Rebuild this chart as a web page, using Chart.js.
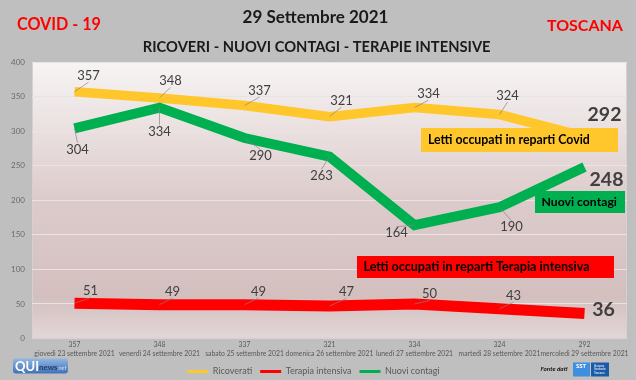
<!DOCTYPE html>
<html><head><meta charset="utf-8">
<script src="https://cdn.jsdelivr.net/npm/chart.js@4/dist/chart.umd.min.js"></script>
<style>html,body{margin:0;padding:0;background:#bfbfbf;}#wrap{width:636px;height:380px;}</style>
</head><body><div id="wrap"><canvas id="c" width="636" height="380"></canvas></div>
<script>
// ---- data ----
const categories = ['giovedì 23 settembre 2021','venerdì 24 settembre 2021','sabato 25 settembre 2021','domenica 26 settembre 2021','lunedì 27 settembre 2021','martedì 28 settembre 2021','mercoledì 29 settembre 2021'];
const ricoverati = [357, 348, 337, 321, 334, 324, 292];
const terapiaIntensiva = [51, 49, 49, 47, 50, 43, 36];
const nuoviContagi = [304, 334, 290, 263, 164, 190, 248];
const seriesNames = ['Ricoverati', 'Terapia intensiva', 'Nuovi contagi'];
const yTickValues = [0, 50, 100, 150, 200, 250, 300, 350, 400];
const titleText = '29 Settembre 2021';
const subtitleText = 'RICOVERI - NUOVI CONTAGI - TERAPIE INTENSIVE';
const leftTag = 'COVID - 19';
const rightTag = 'TOSCANA';
const boxTexts = ['Letti occupati in reparti Covid', 'Nuovi contagi', 'Letti occupati in reparti Terapia intensiva'];

const xLabels = categories.map((c, i) => [String(ricoverati[i]), c]);

const COL_Y = '#FFC72C', COL_R = '#FF0000', COL_G = '#00B050';
const FONT = 'Lato, "Open Sans", sans-serif';

// label placement offsets (px) relative to each point, per dataset
const labelOffsets = [
  [[14,-16],[11,-17],[15,-15],[12,-16],[14,-14],[8,-19],[20,-22]],
  [[16,-12],[13,-13],[14,-13],[17,-14],[15,-10],[14,-13],[19,-4]],
  [[3,21],[0,24],[16,18],[-8,19],[-18,8],[12,20],[22,13]]
];

function fitFont(ctx, text, weight, style, targetW, base) {
  ctx.font = `${style} ${weight} ${base}px ${FONT}`;
  const w = ctx.measureText(text).width;
  const s = base * targetW / w;
  ctx.font = `${style} ${weight} ${s}px ${FONT}`;
  return s;
}

const decor = {
  id: 'decor',
  beforeDraw(chart) {
    const ctx = chart.ctx, a = chart.chartArea;
    ctx.save();
    ctx.fillStyle = '#bfbfbf';
    ctx.fillRect(0, 0, chart.width, chart.height);
    const g = ctx.createLinearGradient(0, a.top, 0, a.bottom);
    g.addColorStop(0, '#f7f4f4');
    g.addColorStop(0.5, '#ddcbcb');
    g.addColorStop(0.85, '#d4bfbf');
    g.addColorStop(1, '#e3d7d7');
    ctx.fillStyle = g;
    ctx.fillRect(a.left, a.top, a.right - a.left, a.bottom - a.top);
    ctx.strokeStyle = '#d6d0d0';
    ctx.lineWidth = 1;
    ctx.strokeRect(a.left + 0.5, a.top + 0.5, a.right - a.left - 1, a.bottom - a.top - 1);
    ctx.restore();
  },
  afterDatasetsDraw(chart) {
    const ctx = chart.ctx;
    ctx.save();
    // annotation boxes
    const boxes = [
      {x:421, y:128, w:197, h:24, bg:COL_Y, tx:428, tw:162, ty:140.5, t:boxTexts[0]},
      {x:535, y:191, w:90, h:22, bg:COL_G, tx:541.5, tw:75.5, ty:202.5, t:boxTexts[1]},
      {x:357, y:256, w:257, h:22, bg:COL_R, tx:363.5, tw:226.5, ty:267.3, t:boxTexts[2]}
    ];
    boxes.forEach(b => {
      ctx.fillStyle = b.bg;
      ctx.fillRect(b.x, b.y, b.w, b.h);
      ctx.fillStyle = '#000';
      ctx.textAlign = 'left';
      ctx.textBaseline = 'middle';
      fitFont(ctx, b.t, 'bold', 'normal', b.tw, 13);
      ctx.fillText(b.t, b.tx, b.ty);
    });
    // data labels
    chart.data.datasets.forEach((ds, di) => {
      const meta = chart.getDatasetMeta(di);
      meta.data.forEach((pt, i) => {
        const last = i === meta.data.length - 1;
        const [dx, dy] = labelOffsets[di][i];
        const lx = pt.x + dx, ly = pt.y + dy;
        const txt = String(ds.data[i]);
        const h = last ? 15 : 11;
        if (!last) {
          const ax = lx, ay = dy < 0 ? ly + h / 2 + 1 : ly - h / 2 - 1;
          if (Math.hypot(ax - pt.x, ay - pt.y) > 5) {
            ctx.strokeStyle = 'rgba(130,130,130,0.85)';
            ctx.lineWidth = 0.8;
            ctx.beginPath();
            ctx.moveTo(pt.x, pt.y);
            ctx.lineTo(ax, ay);
            ctx.stroke();
          }
        }
        ctx.fillStyle = '#404040';
        ctx.textAlign = 'center';
        ctx.textBaseline = 'middle';
        ctx.font = last ? `bold 19.5px ${FONT}` : `13px ${FONT}`;
        ctx.fillText(txt, lx, ly);
      });
    });
    ctx.restore();
  },
  afterDraw(chart) {
    const ctx = chart.ctx;
    ctx.save();
    ctx.textBaseline = 'middle';
    ctx.textAlign = 'left';
    // titles
    ctx.fillStyle = '#1a1a1a';
    fitFont(ctx, titleText, 'bold', 'normal', 146, 17);
    ctx.fillText(titleText, 242.6, 18);
    fitFont(ctx, subtitleText, 'bold', 'normal', 348, 13);
    ctx.fillText(subtitleText, 142.8, 47.5);
    ctx.fillStyle = '#FF0000';
    fitFont(ctx, leftTag, 'bold', 'normal', 84, 16);
    ctx.fillText(leftTag, 17, 24.5);
    fitFont(ctx, rightTag, 'bold', 'normal', 76, 16);
    ctx.fillText(rightTag, 547, 25.5);
    // QUInews logo
    const lg = ctx.createLinearGradient(0, 359, 0, 374);
    lg.addColorStop(0, '#8fb4e0');
    lg.addColorStop(1, '#3f6fb3');
    ctx.fillStyle = lg;
    ctx.beginPath();
    ctx.roundRect(13, 358.5, 55, 15, 3);
    ctx.fill();
    ctx.fillStyle = '#ffffff';
    ctx.font = `bold 13px ${FONT}`;
    ctx.fillText('QUI', 15, 366.5);
    ctx.fillStyle = '#1d3f73';
    ctx.font = `bold 8px ${FONT}`;
    ctx.fillText('news', 39, 367.5);
    ctx.fillStyle = '#c9dcf2';
    ctx.font = `italic 6px ${FONT}`;
    ctx.fillText('.net', 57, 368);
    // Fonte dati
    ctx.fillStyle = '#111';
    fitFont(ctx, 'Fonte dati', 'bold', 'italic', 27, 8);
    ctx.fillText('Fonte dati', 540.5, 369);
    // SST logo
    ctx.fillStyle = '#3f8fe0';
    ctx.fillRect(573, 362.5, 17, 14);
    ctx.fillStyle = '#1b5aa6';
    ctx.fillRect(591, 362.5, 18, 14);
    ctx.fillStyle = '#ffffff';
    ctx.font = `bold 6px ${FONT}`;
    ctx.fillText('SST', 576, 366.5);
    ctx.font = `3px ${FONT}`;
    ctx.fillText('Sistema', 594, 366);
    ctx.fillText('Sanitario', 594, 369.5);
    ctx.fillText('Toscana', 594, 373);
    ctx.restore();
  }
};

new Chart(document.getElementById('c'), {
  type: 'line',
  data: {
    labels: xLabels,
    datasets: [
      {label: seriesNames[0], data: ricoverati, borderColor: COL_Y, backgroundColor: COL_Y, borderWidth: 9.5, order: 3},
      {label: seriesNames[1], data: terapiaIntensiva, borderColor: COL_R, backgroundColor: COL_R, borderWidth: 11, order: 2},
      {label: seriesNames[2], data: nuoviContagi, borderColor: COL_G, backgroundColor: COL_G, borderWidth: 10, order: 1}
    ]
  },
  options: {
    responsive: false,
    devicePixelRatio: 1,
    animation: false,
    events: [],
    layout: {padding: {top: 62, left: 0, right: 9, bottom: -6}},
    elements: {
      point: {radius: 0, hoverRadius: 0},
      line: {tension: 0, borderCapStyle: 'butt', borderJoinStyle: 'miter', fill: false}
    },
    plugins: {
      legend: {
        display: true,
        position: 'bottom',
        labels: {
          boxWidth: 21, boxHeight: 3, padding: 8,
          color: '#595959',
          font: {size: 9, family: FONT},
          generateLabels(chart) {
            return chart.data.datasets.map((ds, i) => ({
              text: ds.label, fillStyle: ds.borderColor, strokeStyle: ds.borderColor,
              lineWidth: 0, hidden: false, datasetIndex: i, fontColor: '#595959'
            }));
          }
        }
      },
      tooltip: {enabled: false},
      title: {display: false}
    },
    scales: {
      x: {
        offset: true,
        grid: {display: false, drawTicks: false},
        border: {display: true, color: '#d8d2d2'},
        ticks: {
          autoSkip: false, maxRotation: 0, minRotation: 0, padding: 2.5,
          color: '#595959',
          font: {size: 6.8, family: FONT, lineHeight: 1.22}
        },
        afterFit(s) { s.height = 20.5; }
      },
      y: {
        min: 0, max: 400,
        afterBuildTicks(s) { s.ticks = yTickValues.map(v => ({value: v})); },
        grid: {color: '#e9e3e3', drawTicks: false, lineWidth: 1},
        border: {display: false},
        ticks: {padding: 7, color: '#6b6b6b', font: {size: 8, family: FONT}},
        afterFit(s) { s.width = 32; }
      }
    }
  },
  plugins: [decor]
});
</script>
</body></html>
